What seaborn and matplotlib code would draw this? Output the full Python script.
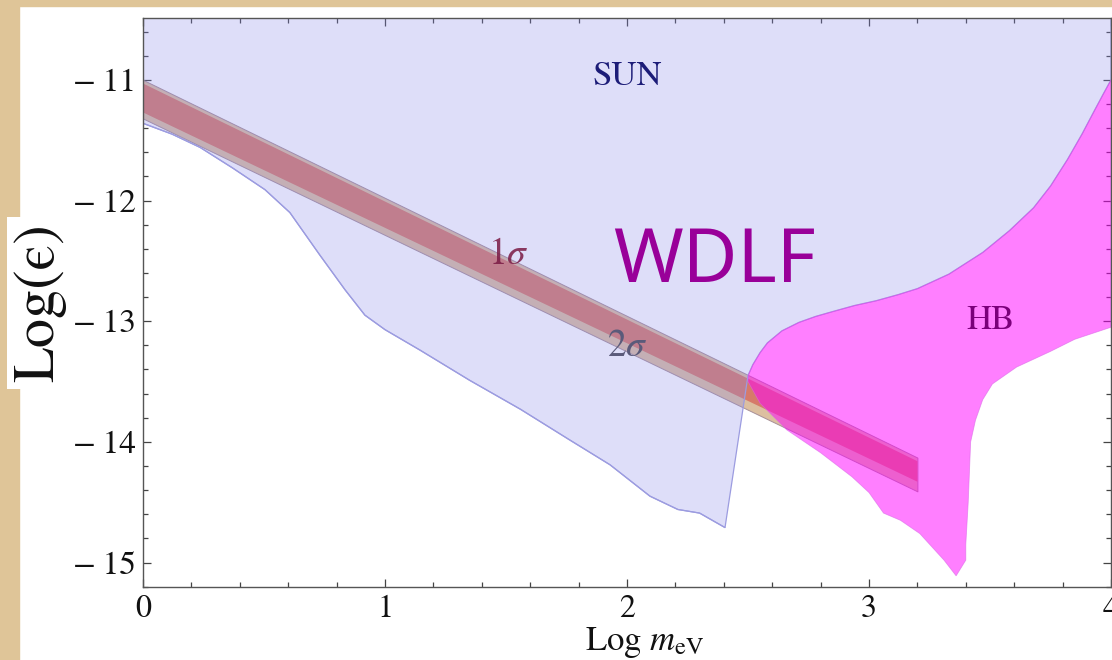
import numpy as np
import matplotlib
matplotlib.use("Agg")
import matplotlib.pyplot as plt
from matplotlib.patches import Rectangle
import seaborn as sns

# ---------------- data ----------------
# SUN exclusion region: lower boundary (left part)
sun_edge_x = [0.0, 0.12, 0.236, 0.37, 0.504, 0.607, 0.73, 0.835, 0.917, 1.0, 1.145, 1.35, 1.56, 1.76, 1.93, 2.095, 2.21, 2.30, 2.405]
sun_edge_y = [-11.36, -11.45, -11.56, -11.73, -11.91, -12.10, -12.45, -12.74, -12.95, -13.07, -13.24, -13.49, -13.73, -13.98, -14.19, -14.45, -14.56, -14.59, -14.71]

# boundary between SUN and HB regions
hb_top_x = [2.50, 2.52, 2.55, 2.58, 2.64, 2.71, 2.78, 2.85, 2.94, 3.03, 3.12, 3.20, 3.33, 3.47, 3.58, 3.68, 3.75, 3.82, 3.88, 3.93, 3.97, 4.0]
hb_top_y = [-13.45, -13.36, -13.26, -13.18, -13.08, -13.01, -12.96, -12.92, -12.87, -12.83, -12.78, -12.73, -12.61, -12.43, -12.25, -12.06, -11.88, -11.66, -11.45, -11.26, -11.11, -11.0]

# HB region lower boundary (from right to left)
hb_bot_x = [4.0, 3.85, 3.75, 3.61, 3.51, 3.47, 3.44, 3.42, 3.41, 3.40, 3.40, 3.36, 3.31, 3.26, 3.21, 3.13, 3.06, 3.00, 2.93, 2.80, 2.66, 2.55, 2.50]
hb_bot_y = [-13.05, -13.15, -13.25, -13.38, -13.52, -13.65, -13.82, -14.00, -14.50, -14.85, -14.98, -15.11, -14.98, -14.87, -14.76, -14.65, -14.59, -14.42, -14.29, -14.09, -13.90, -13.68, -13.50]

# WDLF hint band (1 sigma and 2 sigma)
band_x = [0.0, 3.2]
sig2_upper = [-11.00, -14.13]
sig1_upper = [-11.03, -14.16]
sig1_lower = [-11.27, -14.33]
sig2_lower = [-11.32, -14.41]

x_ticks = [0, 1, 2, 3, 4]
y_ticks = [-15, -14, -13, -12, -11]
x_lim = (0, 4)
y_lim = (-15.2, -10.49)

# ---------------- style ----------------
sns.set_theme(style="ticks")
plt.rcParams["font.family"] = ["STIXGeneral", "DejaVu Sans"]
plt.rcParams["mathtext.fontset"] = "stix"

fig = plt.figure(figsize=(11.12, 6.6), dpi=100, facecolor="white")
tan = "#dfc598"
fig.patches.append(Rectangle((0, 0), 19 / 1112, 1, transform=fig.transFigure, color=tan, zorder=0))
fig.patches.append(Rectangle((0, 1 - 6 / 660), 1, 6 / 660, transform=fig.transFigure, color=tan, zorder=0))

ax = fig.add_axes([143 / 1112, 73.3 / 660, 968 / 1112, 568.4 / 660])
ax.set_facecolor("white")
ax.set_xlim(*x_lim)
ax.set_ylim(*y_lim)

# band (drawn underneath, opaque)
ax.fill_between(band_x, sig2_lower, sig2_upper, facecolor="#dcbfa0", edgecolor="#a89098", linewidth=0.7, zorder=1)
ax.fill_between(band_x, sig1_lower, sig1_upper, facecolor="#d67a6a", edgecolor="none", zorder=1.1)

# SUN region (translucent lavender)
top = 0.5 + y_lim[1]
sun_px = [x_lim[0], x_lim[1]] + hb_top_x[::-1] + sun_edge_x[::-1]
sun_py = [top, top] + hb_top_y[::-1] + sun_edge_y[::-1]
ax.fill(sun_px, sun_py, facecolor=(137 / 255, 137 / 255, 237 / 255, 0.28), edgecolor="#9c9ce0", linewidth=0.9, zorder=2)

# HB region (translucent magenta)
hb_px = hb_top_x + hb_bot_x
hb_py = hb_top_y + hb_bot_y
ax.fill(hb_px, hb_py, facecolor=(1.0, 0.0, 1.0, 0.5), edgecolor=(0.85, 0.4, 0.9, 0.6), linewidth=0.6, zorder=3)

# boundary line of the SUN region through seaborn
sns.lineplot(x=sun_edge_x, y=sun_edge_y, ax=ax, color="#9c9ce0", linewidth=0.9, sort=False, zorder=2.5)

# labels inside
ax.text(2.0, -10.98, "SUN", color="#1c1c78", fontsize=25, ha="center", va="center", zorder=5)
ax.text(1.51, -12.45, r"$1\sigma$", color="#7a1a44", fontsize=27, ha="center", va="center", alpha=0.85, zorder=5)
ax.text(2.0, -13.21, r"$2\sigma$", color="#5a5a7a", fontsize=27, ha="center", va="center", zorder=5)
ax.text(2.36, -12.51, "WDLF", color="#990099", fontsize=54, family=["Noto Sans", "DejaVu Sans"], ha="center", va="center", zorder=5)
ax.text(3.5, -13.0, "HB", color="#7a007a", fontsize=25, ha="center", va="center", zorder=5)

# axes / ticks
ax.set_xticks(x_ticks)
ax.set_yticks(y_ticks)
ax.set_xticklabels([str(v) for v in x_ticks])
ax.set_yticklabels(["\u2212\u2009" + str(abs(v)) for v in y_ticks])
ax.xaxis.set_minor_locator(matplotlib.ticker.MultipleLocator(0.2))
ax.yaxis.set_minor_locator(matplotlib.ticker.MultipleLocator(0.2))
ax.tick_params(which="both", direction="in", top=True, right=True, color="#444444", width=0.9)
ax.tick_params(which="major", length=6)
ax.tick_params(which="minor", length=3.5)
ax.tick_params(axis="y", which="major", labelsize=24, pad=5, labelcolor="#111111")
ax.tick_params(axis="x", which="major", labelsize=23, pad=6, labelcolor="#111111")
for s in ax.spines.values():
    s.set_color("#555555")
    s.set_linewidth(1.0)
    s.set_zorder(6)
ax.set_xlabel("")
ax.set_ylabel("")

fig.text(645 / 1112, 1 - 643 / 660, r"$\mathrm{Log}\ m_{\mathrm{eV}}$", fontsize=25, ha="center", va="center", color="#111111")
fig.text(40 / 1112, 1 - 303 / 660, "Log(\u03f5)", fontsize=42, rotation=90, ha="center", va="center", color="#111111",
         bbox=dict(boxstyle="square,pad=0.12", facecolor="white", edgecolor="none"))

fig.savefig("out.png", dpi=100, facecolor="white")
